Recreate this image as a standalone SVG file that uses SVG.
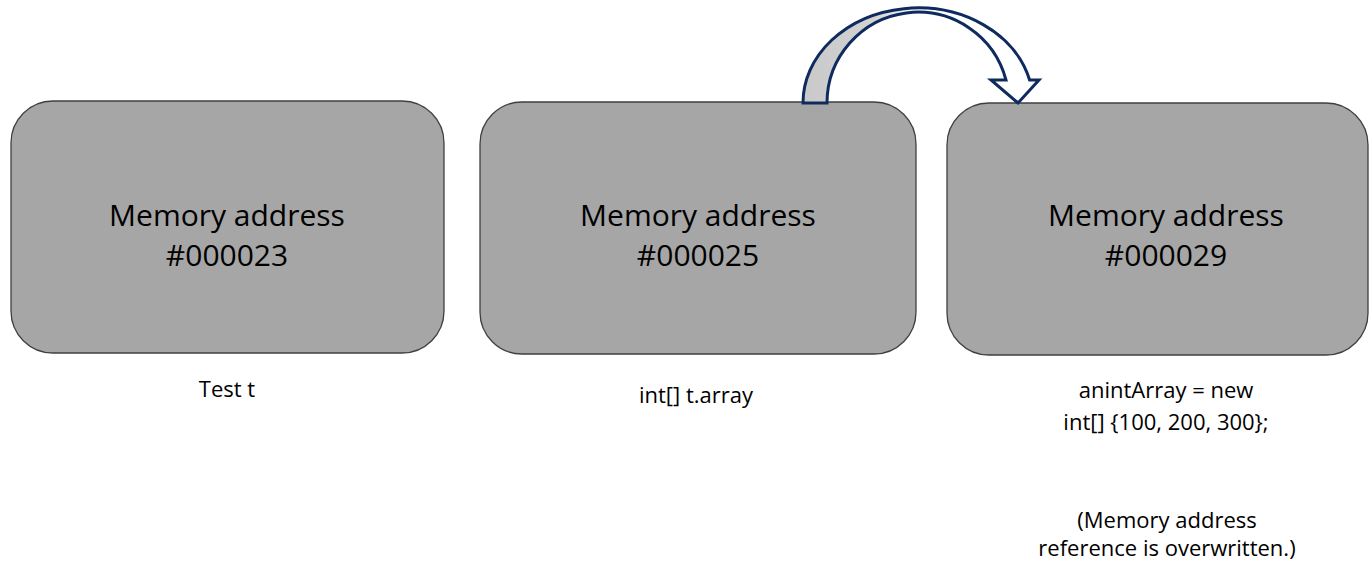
<svg xmlns="http://www.w3.org/2000/svg" width="1369" height="567" viewBox="0 0 1369 567">
<defs>
<style>
.box{fill:#a6a6a6;stroke:#3f3f3f;stroke-width:1.3}
.t{font-family:"Open Sans","Liberation Sans",sans-serif;fill:#000;text-anchor:middle}
.big{font-size:30px}
.lbl{font-size:22px}
</style>
<linearGradient id="ag" x1="803" y1="0" x2="1040" y2="0" gradientUnits="userSpaceOnUse">
<stop offset="0" stop-color="#c9c9c9"/>
<stop offset="0.3" stop-color="#d2d2d2"/>
<stop offset="0.5" stop-color="#ffffff"/>
<stop offset="1" stop-color="#ffffff"/>
</linearGradient>
</defs>
<rect width="1369" height="567" fill="#ffffff"/>
<g id="node1">
<rect class="box" x="11" y="101" width="433" height="252" rx="42" ry="42"/>
<text class="t big" x="227" y="226">Memory address</text>
<text class="t big" x="227" y="266">#000023</text>
</g>
<g id="node2">
<rect class="box" x="480" y="102" width="436" height="252" rx="42" ry="42"/>
<text class="t big" x="698" y="226">Memory address</text>
<text class="t big" x="698" y="266">#000025</text>
</g>
<g id="node3">
<rect class="box" x="947" y="103" width="421" height="252" rx="42" ry="42"/>
<text class="t big" x="1166" y="226">Memory address</text>
<text class="t big" x="1166" y="266">#000029</text>
</g>
<g id="label1"><text class="t lbl" x="227" y="397">Test t</text></g>
<g id="label2"><text class="t lbl" x="696" y="403">int[] t.array</text></g>
<g id="label3">
<text class="t lbl" x="1166" y="398">anintArray = new</text>
<text class="t lbl" x="1166" y="430">int[] {100, 200, 300};</text>
<text class="t lbl" x="1167" y="528">(Memory address</text>
<text class="t lbl" x="1167" y="556">reference is overwritten.)</text>
</g>
<g id="connectors">
<path d="M 803 103 A 115 95 0 0 1 1029.6 80 L 1039 80 L 1018 103 L 991 80 L 1006 80 A 91 91 0 0 0 827 103 Z" fill="url(#ag)" stroke="#0f2a5e" stroke-width="3" stroke-linejoin="miter"/>
</g>
</svg>
